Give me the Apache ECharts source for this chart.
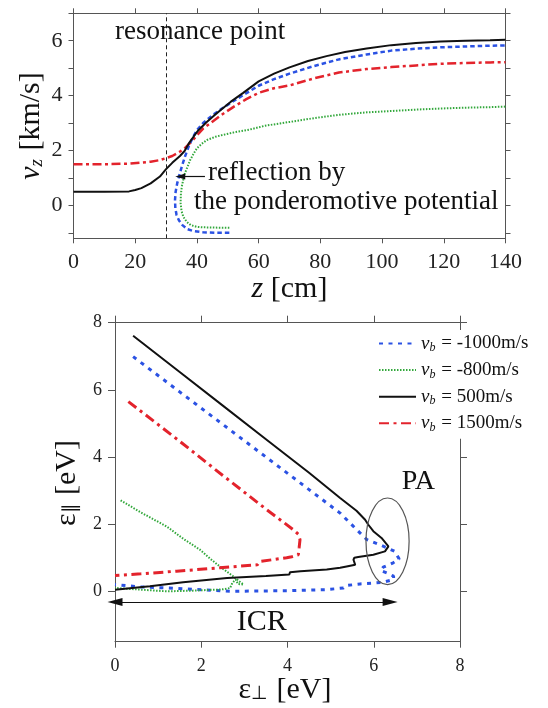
<!DOCTYPE html>
<html>
<head>
<meta charset="utf-8">
<script src="https://cdn.jsdelivr.net/npm/echarts@6/dist/echarts.min.js"></script>
<style>
html, body { margin: 0; padding: 0; background: #fff; }
#main { width: 548px; height: 708px; }
</style>
</head>
<body>
<div id="main"></div>
<script>
// ---- top panel : v_z [km/s] against z [cm] ----
var resonanceZ = 30;
var zTicks = [0, 20, 40, 60, 80, 100, 120, 140];
var vTicks = [-1, 0, 1, 2, 3, 4, 5, 6, 7];
var vLabels = [0, 2, 4, 6];

var topBlackZ = [0, 10, 18, 20, 22, 25, 28, 30, 32, 34.5, 36, 37.5, 39, 40.5, 43, 45.5, 48, 51, 55, 60, 65, 70, 76, 82, 88, 95, 103, 111, 119, 127, 135, 140];
var topBlackV = [0.5, 0.5, 0.51, 0.56, 0.63, 0.8, 1.05, 1.32, 1.55, 1.8, 1.98, 2.28, 2.52, 2.74, 3.02, 3.27, 3.5, 3.78, 4.1, 4.52, 4.8, 5.03, 5.26, 5.44, 5.59, 5.72, 5.84, 5.92, 5.97, 6.0, 6.02, 6.04];

var topRedZ = [0, 10, 18, 22, 25, 28, 30, 32, 34.5, 36, 38, 40, 42, 45, 48, 52, 56, 60, 65, 70, 78, 86, 95, 103, 111, 119, 127, 135, 140];
var topRedV = [1.5, 1.5, 1.52, 1.56, 1.59, 1.65, 1.72, 1.8, 1.96, 2.08, 2.3, 2.55, 2.8, 3.05, 3.3, 3.6, 3.87, 4.1, 4.27, 4.37, 4.63, 4.84, 4.97, 5.04, 5.1, 5.16, 5.19, 5.21, 5.22];

var topBlueZ = [50.5, 46, 42, 39, 37, 35.3, 34.2, 33.4, 33, 32.9, 33.1, 33.6, 34.3, 35.2, 36.2, 37.5, 38.8, 40, 42, 45, 48, 51, 55, 60, 65, 70, 78, 86, 95, 103, 111, 119, 127, 135, 140];
var topBlueV = [-1.0, -1.0, -0.98, -0.94, -0.87, -0.72, -0.55, -0.35, -0.1, 0.2, 0.5, 0.8, 1.1, 1.45, 1.8, 2.2, 2.5, 2.74, 3.0, 3.28, 3.52, 3.74, 4.02, 4.36, 4.6, 4.8, 5.08, 5.32, 5.5, 5.64, 5.71, 5.76, 5.79, 5.82, 5.83];

var topGreenZ = [50.5, 46, 42, 39.9, 38, 36.7, 35.6, 35, 34.7, 34.8, 35.1, 35.6, 36.1, 37, 37.8, 39, 40, 41.5, 43.2, 46, 48.5, 52, 57, 62, 70, 78, 86, 95, 103, 111, 119, 127, 135, 140];
var topGreenV = [-0.82, -0.81, -0.8, -0.78, -0.72, -0.6, -0.42, -0.2, 0.09, 0.4, 0.69, 0.95, 1.17, 1.42, 1.65, 1.9, 2.08, 2.24, 2.38, 2.5, 2.57, 2.66, 2.76, 2.9, 3.04, 3.18, 3.3, 3.39, 3.44, 3.49, 3.53, 3.56, 3.58, 3.6];

// reflection arrow (z from, z to, v)
var reflectArrow = [42.6, 34.6, 1.05];

// ---- bottom panel : eps_par against eps_perp ----
var eTicks = [0, 2, 4, 6, 8];
var vbNames = ['-1000', '-800', '500', '1500'];

var botBluePerp = [0.42, 1.5, 2.5, 3.5, 4.5, 5.22, 5.68, 5.84, 6.14, 6.49, 6.59, 6.45, 6.22, 6.16, 6.3, 6.46, 6.46, 6.22, 5.68, 5.35, 5.3, 4.9, 4.0, 2.7, 2.0, 1.2, 0.6, 0];
var botBluePar = [6.99, 5.94, 4.97, 4.0, 3.03, 2.33, 1.74, 1.54, 1.39, 1.19, 0.96, 0.85, 0.72, 0.62, 0.55, 0.45, 0.35, 0.27, 0.22, 0.17, 0.1, 0.05, 0.02, 0.0, 0.05, 0.1, 0.13, 0.2];

var botGreenPerp = [0.13, 0.6, 1.2, 1.6, 1.97, 2.2, 2.43, 2.6, 2.74, 2.86, 2.98, 2.85, 2.8, 2.72, 2.67, 2.5, 2.36, 1.8, 1.2, 0.6, 0];
var botGreenPar = [2.71, 2.35, 1.93, 1.55, 1.24, 0.98, 0.74, 0.58, 0.45, 0.32, 0.2, 0.22, 0.35, 0.25, 0.1, 0.06, 0.05, 0.02, 0.0, 0.05, 0.1];

var botBlackPerp = [0.42, 1.5, 2.5, 3.5, 4.5, 5.22, 5.6, 5.8, 5.87, 5.99, 6.18, 6.34, 6.26, 5.99, 5.64, 5.55, 5.53, 5.57, 5.37, 5.22, 4.91, 4.3, 4.06, 4.04, 3.5, 2.6, 2.58, 1.58, 1.55, 0.81, 0.4, 0];
var botBlackPar = [7.61, 6.53, 5.53, 4.53, 3.53, 2.78, 2.4, 2.13, 1.99, 1.79, 1.59, 1.34, 1.19, 1.09, 1.02, 1.0, 0.94, 0.79, 0.74, 0.70, 0.65, 0.60, 0.57, 0.50, 0.46, 0.40, 0.36, 0.27, 0.23, 0.15, 0.1, 0.05];

var botRedPerp = [0.31, 1.5, 2.5, 3.5, 4.13, 4.25, 4.29, 4.27, 4.25, 4.1, 3.98, 3.36, 3.3, 2.43, 1.43, 0.6, 0];
var botRedPar = [5.65, 4.47, 3.45, 2.45, 1.84, 1.7, 1.54, 1.3, 1.09, 1.03, 1.0, 0.89, 0.79, 0.70, 0.6, 0.52, 0.47];

// ICR arrow (from, to, level) and PA ellipse (centre, radii) in data units
var icrArrow = [0, 6.38, -0.32];
var paCenter = [6.32, 1.49];
var paRadius = [0.5, 1.29];

var SERIF = '"Liberation Serif", "Times New Roman", serif';
var INK = '#111';
var AXIS = '#555';
var BLUE = '#2b52e3';
var GREEN = '#33a83c';
var RED = '#e3232c';

function pairs(xs, ys) {
  var out = [];
  for (var i = 0; i < xs.length; i++) out.push([xs[i], ys[i]]);
  return out;
}

function frameAxis(gridIndex, pos, min, max, ticks, labels, labelSize, margin, tickLen) {
  return {
    type: 'value', gridIndex: gridIndex, position: pos, min: min, max: max,
    axisLine: { show: true, onZero: false, lineStyle: { color: AXIS, width: 1 } },
    axisTick: { show: true, inside: false, length: tickLen, customValues: ticks, lineStyle: { color: AXIS } },
    axisLabel: labels ? {
      show: true, customValues: labels, margin: margin,
      fontFamily: SERIF, fontSize: labelSize, color: '#222'
    } : { show: false },
    splitLine: { show: false }
  };
}

var legendText = {
  '-1000': ' = -1000m/s', '-800': ' = -800m/s', '500': ' = 500m/s', '1500': ' = 1500m/s'
};

function lineSeries(name, axis, xs, ys, color, width, dash) {
  return {
    name: name, type: 'line', xAxisIndex: axis, yAxisIndex: axis,
    symbol: 'none', silent: true, data: pairs(xs, ys),
    itemStyle: { color: color },
    lineStyle: { color: color, width: width, type: dash || 'solid' }
  };
}

var sTopRed = lineSeries('top-red', 0, topRedZ, topRedV, RED, 2.5, [9, 3.5, 3, 3.5]);
var sTopGreen = lineSeries('top-green', 0, topGreenZ, topGreenV, GREEN, 2, [1.5, 1.5]);
sTopGreen.markLine = {
  silent: true, symbol: ['none', 'triangle'], symbolSize: [6, 10],
  label: { show: false },
  lineStyle: { color: INK, width: 1.2, type: 'solid' },
  data: [[{ coord: [reflectArrow[0], reflectArrow[2]] }, { coord: [reflectArrow[1], reflectArrow[2]] }]]
};
var sTopBlue = lineSeries('top-blue', 0, topBlueZ, topBlueV, BLUE, 2.5, [4.5, 3]);
var sTopBlack = lineSeries('top-black', 0, topBlackZ, topBlackV, INK, 2);
sTopBlack.markLine = {
  silent: true, symbol: 'none', label: { show: false },
  lineStyle: { color: '#222', width: 1, type: [4, 3] },
  data: [{ xAxis: resonanceZ }]
};

var sBlue = lineSeries(vbNames[0], 2, botBluePerp, botBluePar, BLUE, 3, [4, 5.5]);
var sGreen = lineSeries(vbNames[1], 2, botGreenPerp, botGreenPar, GREEN, 2, [1.5, 1.5]);
var sBlack = lineSeries(vbNames[2], 2, botBlackPerp, botBlackPar, INK, 2);
sBlack.markLine = {
  silent: true, symbol: ['triangle', 'triangle'], symbolSize: [8, 15],
  label: { show: false },
  lineStyle: { color: INK, width: 1.2, type: 'solid' },
  data: [[{ coord: [icrArrow[0], icrArrow[2]] }, { coord: [icrArrow[1], icrArrow[2]] }]]
};
var sRed = lineSeries(vbNames[3], 2, botRedPerp, botRedPar, RED, 3, [10, 4.5, 3, 4.5]);

var option = {
  animation: false,
  backgroundColor: '#fff',
  grid: [
    { left: 73.5, top: 13.3, width: 432, height: 225, containLabel: false },
    { left: 115, top: 322.7, width: 345, height: 319, containLabel: false }
  ],
  xAxis: [
    frameAxis(0, 'bottom', 0, 140, zTicks, zTicks, 22, 13, 5),
    frameAxis(0, 'top', 0, 140, zTicks, null, 0, 0, 5),
    frameAxis(1, 'bottom', 0, 8, eTicks, eTicks, 18, 16, 6),
    frameAxis(1, 'top', 0, 8, eTicks, null, 0, 0, 7)
  ],
  yAxis: [
    frameAxis(0, 'left', -1.2, 7, vTicks, vLabels, 22, 11, 5),
    frameAxis(0, 'right', -1.2, 7, vTicks, null, 0, 0, 5),
    frameAxis(1, 'left', -1.5, 8, eTicks, eTicks, 18, 13, 7),
    frameAxis(1, 'right', -1.5, 8, eTicks, null, 0, 0, 7)
  ],
  legend: {
    data: vbNames,
    orient: 'vertical',
    left: 370, top: 330,
    padding: [3, 8, 5, 8],
    backgroundColor: '#fff',
    itemWidth: 37, itemHeight: 12, itemGap: 5.6,
    selectedMode: false,
    itemStyle: { opacity: 0 },
    formatter: function (name) {
      return '{v|v}{b|b}{t|' + legendText[name] + '}';
    },
    textStyle: {
      fontFamily: SERIF, fontSize: 19, color: INK, lineHeight: 20,
      rich: {
        v: { fontFamily: SERIF, fontSize: 19, fontStyle: 'italic', color: INK, lineHeight: 20 },
        b: { fontFamily: SERIF, fontSize: 12, fontStyle: 'italic', color: INK, lineHeight: 20, padding: [9, 1, 0, 0] },
        t: { fontFamily: SERIF, fontSize: 19, color: INK, lineHeight: 20 }
      }
    }
  },
  series: [sTopRed, sTopGreen, sTopBlue, sTopBlack, sBlue, sGreen, sBlack, sRed]
};

var chart = echarts.init(document.getElementById('main'));
chart.setOption(option);

// annotations
function txt(text, x, y, size, align, rot, rich) {
  var el = {
    type: 'text', x: x, y: y, silent: true, z: 10,
    style: {
      text: text, fontFamily: SERIF, fontSize: size, fill: INK,
      align: align || 'left', verticalAlign: 'middle', rich: rich
    }
  };
  if (rot) el.rotation = rot;
  return el;
}

var c = chart.convertToPixel({ xAxisIndex: 2, yAxisIndex: 2 }, paCenter);
var r = chart.convertToPixel({ xAxisIndex: 2, yAxisIndex: 2 }, [paCenter[0] + paRadius[0], paCenter[1] + paRadius[1]]);

var subRich = function (size) {
  var small = Math.round(size * 0.62);
  return {
    i: { fontFamily: SERIF, fontSize: size, fontStyle: 'italic', fill: INK, lineHeight: size },
    s: { fontFamily: SERIF, fontSize: small, fontStyle: 'italic', fill: INK, lineHeight: size, padding: [Math.round(size * 0.4), 1, 0, 0] },
    n: { fontFamily: SERIF, fontSize: size, fill: INK, lineHeight: size },
    u: { fontFamily: SERIF, fontSize: small, fill: INK, lineHeight: size, padding: [Math.round(size * 0.3), 1, 0, 0] }
  };
};

chart.setOption({
  graphic: [
    txt('resonance point', 115, 31.7, 27),
    txt('reflection by', 208, 173, 27),
    txt('the ponderomotive potential', 194, 202, 27),
    txt('PA', 401.7, 482, 28),
    txt('ICR', 261.7, 621.7, 30, 'center'),
    txt('{i|v}{s|z}{n| [km/s]}', 31, 126, 30, 'center', Math.PI / 2, subRich(30)),
    txt('{i|z}{n| [cm]}', 289.5, 289, 30, 'center', 0, subRich(30)),
    txt('{n|ε}{u|⊥}{n| [eV]}', 285, 690, 30, 'center', 0, subRich(30)),
    txt('{n|ε}{u|∥}{n| [eV]}', 67, 483, 30, 'center', Math.PI / 2, subRich(30)),
    {
      type: 'ellipse', silent: true, z: 10,
      shape: { cx: c[0], cy: c[1], rx: Math.abs(r[0] - c[0]), ry: Math.abs(c[1] - r[1]) },
      style: { fill: 'none', stroke: '#555', lineWidth: 1.2 }
    }
  ]
});
</script>
</body>
</html>
